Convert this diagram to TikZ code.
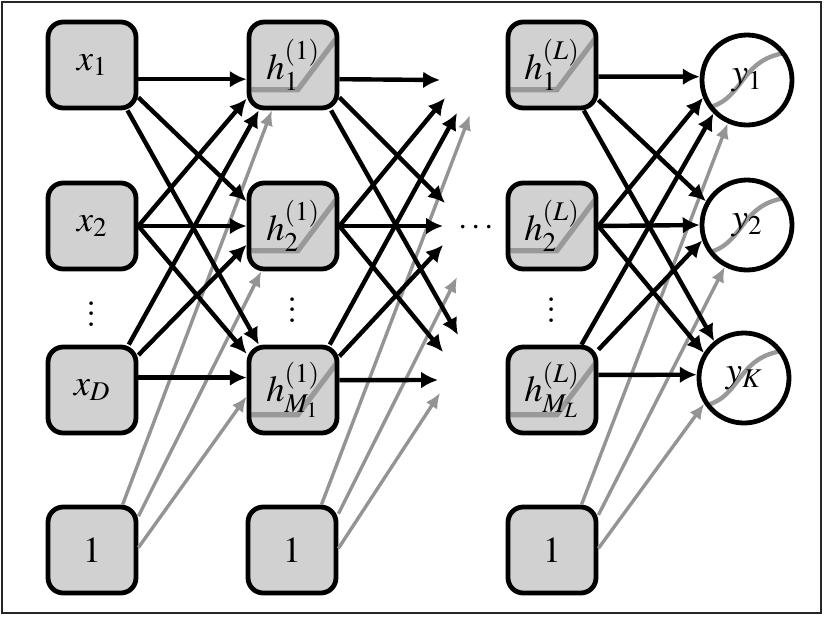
\documentclass[tikz,border=0pt]{standalone}
\usepackage{mathptmx}
\usetikzlibrary{arrows.meta}
\begin{document}
\begin{tikzpicture}[
    % Input units and bias units
    unit/.style={
        draw, line width=0.12cm, rounded corners=0.38cm, fill=black!18,
        minimum width=2.2cm, minimum height=2.15cm, inner sep=0pt,
        font=\fontsize{26}{30}\selectfont
    },
    % Hidden units (ramp activation)
    unith/.style={
        unit,
        path picture={\draw[black!40, line width=0.13cm, sharp corners]
            ([shift={(-1.3,-0.62)}]path picture bounding box.center) --
            ([shift={(0.12,-0.62)}]path picture bounding box.center) --
            ([shift={(1.3,0.95)}]path picture bounding box.center);}
    },
    % Output units (sigmoid activation)
    unito/.style={
        circle, draw, line width=0.12cm, fill=white,
        minimum size=2.25cm, inner sep=0pt,
        font=\fontsize{26}{30}\selectfont,
        path picture={\draw[black!40, line width=0.11cm]
            ([shift={(-1.3,-0.72)}]path picture bounding box.center)
            .. controls ([shift={(0.05,-0.72)}]path picture bounding box.center)
            and ([shift={(-0.35,0.7)}]path picture bounding box.center) ..
            ([shift={(1.3,0.7)}]path picture bounding box.center);}
    },
    vdotsn/.style={font=\fontsize{14}{16}\selectfont, scale=1.9, inner sep=0pt},
    hdotsn/.style={font=\fontsize{24}{28}\selectfont, inner sep=0pt},
    linha/.style={draw, line width=0.11cm, -{Latex[length=0.42cm, width=0.42cm]}},
    lbias/.style={draw=black!42, line width=0.085cm, -{Latex[length=0.38cm, width=0.34cm]}}
]
\useasboundingbox (0,0) rectangle (20.625,-15.4);
\draw[line width=0.05cm, black!85] (0.04,-0.04) rectangle (20.53,-15.33);

% ---- INPUT LAYER ----
\node[unit] (x1) at (2.3,-1.625) {$x_1$};
\node[unit] (x2) at (2.3,-5.65)  {$x_2$};
\node[unit] (xd) at (2.3,-9.75)  {$x_D$};
\node[unit] (b1) at (2.3,-13.75) {$1$};
\node[vdotsn] (vd_x) at (2.3,-7.65) {$\vdots$};

% ---- FIRST HIDDEN LAYER ----
\node[unith] (h11) at (7.325,-1.625) {$h_1^{(1)}$};
\node[unith] (h12) at (7.325,-5.65)  {$h_2^{(1)}$};
\node[unith] (h1m) at (7.325,-9.75)  {$h_{M_1}^{(1)}$};
\node[unit]  (b2)  at (7.3,-13.75)   {$1$};
\node[vdotsn] (vd_h1) at (7.325,-7.55) {$\vdots$};

% ---- LAST HIDDEN LAYER ----
\node[unith] (hl1) at (13.8,-1.625) {$h_1^{(L)}$};
\node[unith] (hl2) at (13.8,-5.65)  {$h_2^{(L)}$};
\node[unith] (hlm) at (13.8,-9.75)  {$h_{M_L}^{(L)}$};
\node[unit]  (b3)  at (13.8,-13.75) {$1$};
\node[vdotsn] (vd_hl) at (13.8,-7.55) {$\vdots$};

\node[hdotsn] (hd) at (11.9,-5.7) {$\cdots$};

% ---- OUTPUT LAYER ----
\node[unito] (y1) at (18.675,-2.0)  {$y_1$};
\node[unito] (y2) at (18.675,-5.625) {$y_2$};
\node[unito] (yk) at (18.6,-9.45)   {$y_K$};

% ---- INPUT -> FIRST HIDDEN ----
\draw[lbias] (b1.56) -- (h11.245);
\draw[lbias] (b1.36) -- (h12.235);
\draw[lbias] (b1.3)  -- (h1m.188);

\draw[linha] (x1.-17) -- (h11.197);
\draw[linha] (x1.-35) -- (h12.152);
\draw[linha] (x1.-52) -- (h1m.127);
\draw[linha] (x2.east) -- (h11.216);
\draw[linha] (x2.east) -- (h12.west);
\draw[linha] (x2.east) -- (h1m.142);
\draw[linha] (xd.51) -- (h11.233);
\draw[linha] (xd.37) -- (h12.202);
\draw[linha] (xd.15) -- (h1m.165);

% ---- FIRST HIDDEN -> (next layers) ----
\coordinate (p1_a) at (11.0,-2.0);
\coordinate (p1_b) at (11.125,-2.45);
\coordinate (p1_c) at (11.425,-2.825);
\coordinate (p1_g) at (11.75,-2.875);
\coordinate (p2_a) at (11.125,-5.075);
\coordinate (p2_b) at (11.075,-5.65);
\coordinate (p2_c) at (11.075,-6.125);
\coordinate (p2_g) at (11.425,-6.925);
\coordinate (p3_a) at (11.45,-8.375);
\coordinate (p3_b) at (11.075,-8.8);
\coordinate (p3_c) at (10.95,-9.5);
\coordinate (p3_g) at (11.0,-9.825);

\draw[lbias] (b2.57) -- (p1_g);
\draw[lbias] (b2.38) -- (p2_g);
\draw[lbias] (b2.2)  -- (p3_g);

\draw[linha] (h11.-17) -- (p1_a);
\draw[linha] (h11.-35) -- (p2_a);
\draw[linha] (h11.-50) -- (p3_a);
\draw[linha] (h12.east) -- (p1_b);
\draw[linha] (h12.east) -- (p2_b);
\draw[linha] (h12.east) -- (p3_b);
\draw[linha] (h1m.51) -- (p1_c);
\draw[linha] (h1m.36) -- (p2_c);
\draw[linha] (h1m.12) -- (p3_c);

% ---- LAST HIDDEN -> OUTPUT ----
\draw[lbias] (b3.57) -- (y1.246);
\draw[lbias] (b3.37) -- (y2.242);
\draw[lbias] (b3.2)  -- (yk.213);

\draw[linha] (hl1.-14) -- (y1.176);
\draw[linha] (hl1.-37) -- (y2.150);
\draw[linha] (hl1.-55) -- (yk.129);
\draw[linha] (hl2.east) -- (y1.202);
\draw[linha] (hl2.east) -- (y2.west);
\draw[linha] (hl2.east) -- (yk.148);
\draw[linha] (hlm.57) -- (y1.225);
\draw[linha] (hlm.41) -- (y2.199);
\draw[linha] (hlm.18) -- (yk.176);

\end{tikzpicture}
\end{document}
